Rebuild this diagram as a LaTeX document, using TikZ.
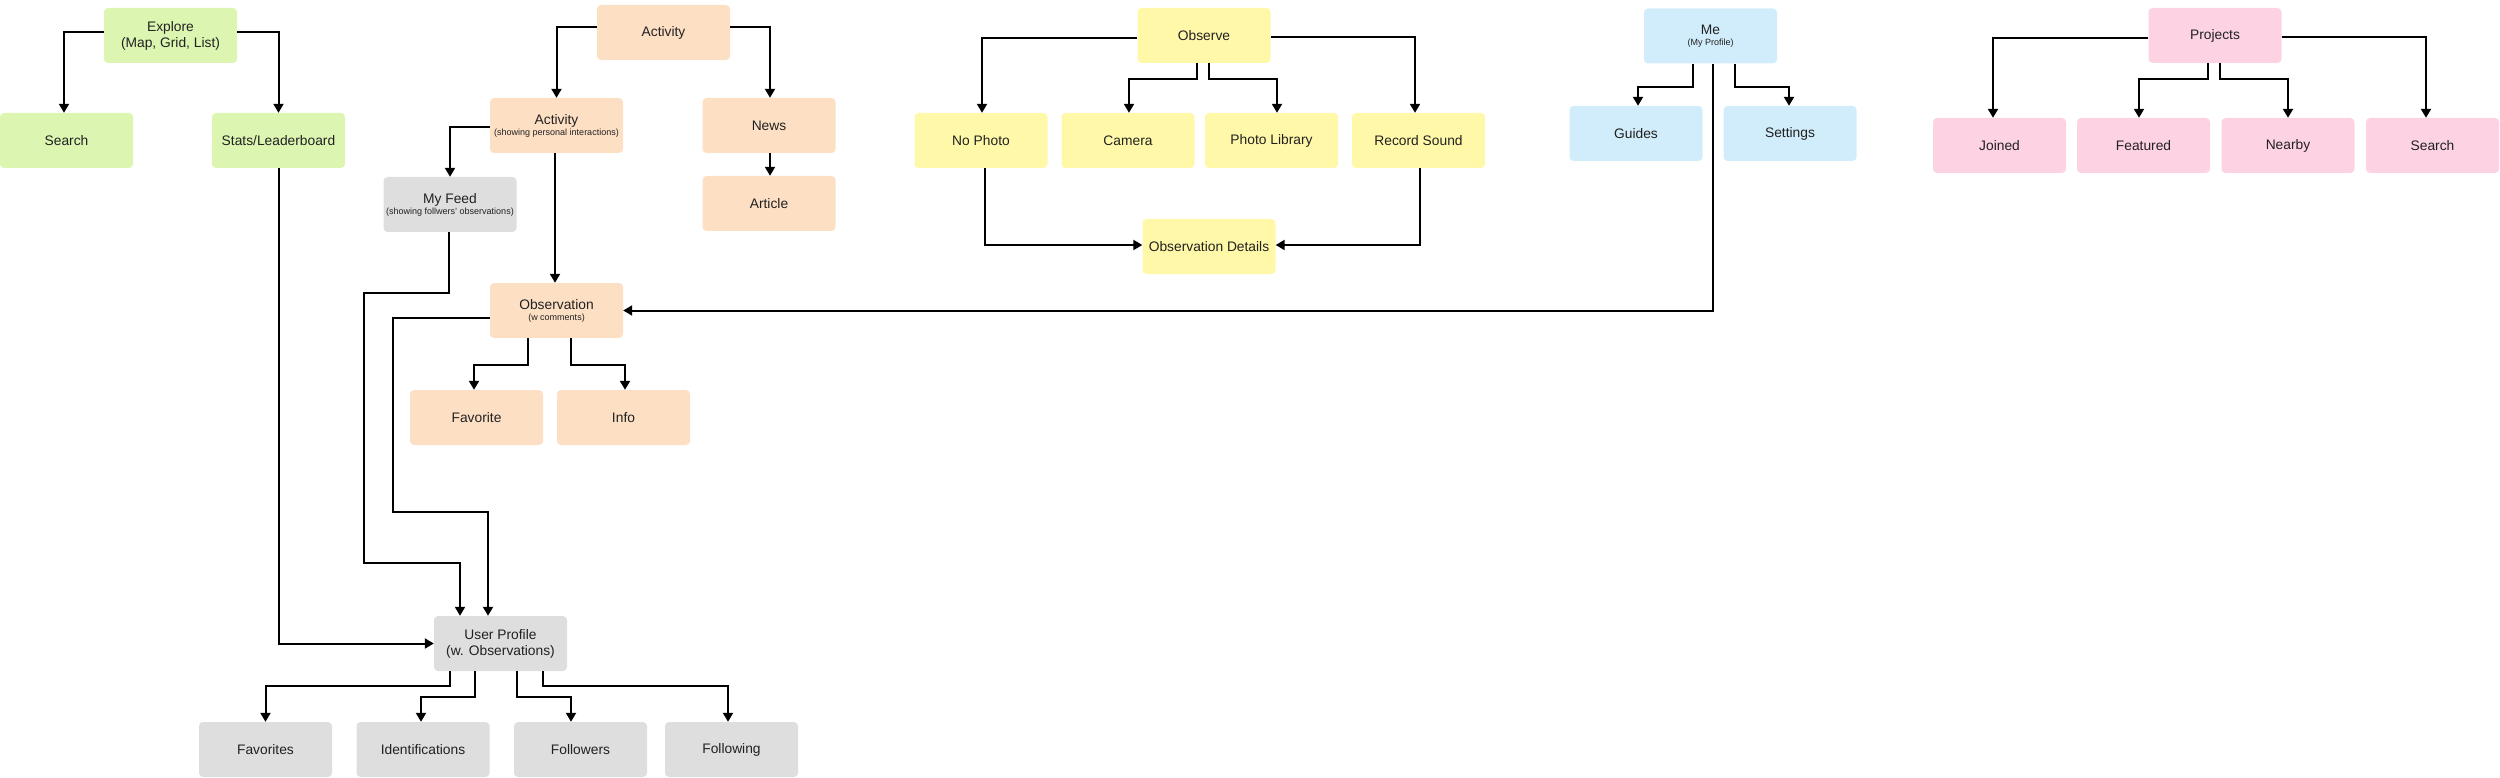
\documentclass[tikz,border=0pt]{standalone}
\usepackage{fontspec}
\setmainfont{Liberation Sans}
\usetikzlibrary{arrows.meta,calc}
\definecolor{cgreen}{RGB}{220,246,178}
\definecolor{cpeach}{RGB}{253,223,196}
\definecolor{cgray}{RGB}{222,222,222}
\definecolor{cyellow}{RGB}{255,248,168}
\definecolor{cblue}{RGB}{209,236,250}
\definecolor{cpink}{RGB}{253,210,227}
\definecolor{ctext}{RGB}{33,33,33}
\newcommand{\subt}[1]{\\[-5pt]{\fontsize{9}{10}\selectfont #1}}
\tikzset{
  box/.style={rectangle, rounded corners=4pt, minimum width=133pt, minimum height=55pt,
    inner sep=0pt, align=center, text=ctext, font=\fontsize{13.8}{16}\selectfont},
  gbox/.style={box, fill=cgreen},
  pbox/.style={box, fill=cpeach},
  grbox/.style={box, fill=cgray},
  ybox/.style={box, fill=cyellow},
  bbox/.style={box, fill=cblue},
  kbox/.style={box, fill=cpink},
  arr/.style={draw=black, line width=2pt, -{Triangle[width=10pt,length=9pt]}},
  ln/.style={draw=black, line width=2pt}
}
\begin{document}
\begin{tikzpicture}[x=1pt,y=-1pt]
\useasboundingbox (0,0) rectangle (2500,778);
% Explore group
\node[gbox] (explore) at (170.5,35.5) {Explore\\(Map, Grid, List)};
\node[gbox] (search) at (66.5,140.5) {Search};
\node[gbox] (stats) at (278.5,140.5) {Stats/Leaderboard};
% Activity group
\node[pbox] (activity) at (663.5,32.5) {Activity};
\node[pbox] (activity2) at (556.5,125.5) {Activity\subt{(showing personal interactions)}};
\node[pbox] (news) at (769,125.5) {News};
\node[pbox] (article) at (769,203.5) {Article};
\node[grbox] (myfeed) at (450,204.5) {My Feed\subt{(showing follwers' observations)}};
\node[pbox] (obs) at (556.5,310.5) {Observation\subt{(w comments)}};
\node[pbox] (favorite) at (476.5,417.5) {Favorite};
\node[pbox] (info) at (623.5,417.5) {Info};
% User profile group
\node[grbox] (profile) at (500.5,643.5) {User Profile\\(w. Observations)};
\node[grbox] (favorites) at (265.5,749.5) {Favorites};
\node[grbox] (idents) at (423,749.5) {Identifications};
\node[grbox] (followers) at (580.5,749.5) {Followers};
\node[grbox] (following) at (731.5,749.5) {Following};
% Observe group
\node[ybox] (observe) at (1204,35.5) {Observe};
\node[ybox] (nophoto) at (981,140.5) {No Photo};
\node[ybox] (camera) at (1128,140.5) {Camera};
\node[ybox] (photolib) at (1271.5,140.5) {Photo Library};
\node[ybox] (sound) at (1418.5,140.5) {Record Sound};
\node[ybox] (details) at (1209,246.5) {Observation Details};
% Me group
\node[bbox] (me) at (1710.5,36) {Me\subt{(My Profile)}};
\node[bbox] (guides) at (1636,133.5) {Guides};
\node[bbox] (settings) at (1790,133.5) {Settings};
% Projects group
\node[kbox] (projects) at (2215,35.5) {Projects};
\node[kbox] (joined) at (1999.5,145.5) {Joined};
\node[kbox] (featured) at (2143.5,145.5) {Featured};
\node[kbox] (nearby) at (2288,145.5) {Nearby};
\node[kbox] (search2) at (2432.5,145.5) {Search};

% Explore connectors
\draw[arr] ([yshift=3pt]explore.west) -| ([xshift=-2.5pt]search.north);
\draw[arr] ([yshift=3.5pt]explore.east) -| (stats.north);
\draw[arr] (stats.south) |- (profile.west);
% Activity connectors
\draw[arr] ([yshift=5.5pt]activity.west) -| (activity2.north);
\draw[arr] ([yshift=5.5pt]activity.east) -| ([xshift=1pt]news.north);
\draw[arr] ([xshift=1pt]news.south) -- ([xshift=1pt]article.north);
\draw[arr] ([yshift=-1.5pt]activity2.west) -| (myfeed.north);
\draw[arr] ([xshift=-1.5pt]activity2.south) -- ([xshift=-1.5pt]obs.north);
\draw[arr] ([xshift=-1pt]myfeed.south) -- ++(0,61) -- ++(-85,0) -- ++(0,270) -| ([xshift=-40.5pt]profile.north);
\draw[arr] ([yshift=-7.5pt]obs.west) -- ++(-97,0) -- ++(0,194) -| ([xshift=-12.5pt]profile.north);
\draw[arr] ([xshift=-28.5pt]obs.south) -- ++(0,27) -| ([xshift=-2.5pt]favorite.north);
\draw[arr] ([xshift=14.5pt]obs.south) -- ++(0,27) -| ([xshift=1.5pt]info.north);
% Profile connectors
\draw[arr] ([xshift=-50.5pt]profile.south) -- ++(0,15) -| (favorites.north);
\draw[arr] ([xshift=-25.5pt]profile.south) -- ++(0,26) -| ([xshift=-2pt]idents.north);
\draw[arr] ([xshift=16.5pt]profile.south) -- ++(0,26) -| ([xshift=-9.5pt]followers.north);
\draw[arr] ([xshift=42.5pt]profile.south) -- ++(0,15) -| ([xshift=-3.5pt]following.north);
% Observe connectors
\draw[arr] ([yshift=-2.5pt]observe.west) -| ([xshift=1pt]nophoto.north);
\draw[arr] ([yshift=-1.5pt]observe.east) -| ([xshift=-3.5pt]sound.north);
\draw[arr] ([xshift=-7pt]observe.south) -- ++(0,16) -| ([xshift=1pt]camera.north);
\draw[arr] ([xshift=5pt]observe.south) -- ++(0,16) -| ([xshift=5.5pt]photolib.north);
\draw[arr] ([xshift=4pt]nophoto.south) |- ([yshift=1.5pt]details.west);
\draw[arr] ([xshift=1.5pt]sound.south) |- ([yshift=1.5pt]details.east);
% Me connectors
\draw[arr] ([xshift=-17.5pt]me.south) -- ++(0,23) -| ([xshift=2pt]guides.north);
\draw[arr] ([xshift=24.5pt]me.south) -- ++(0,23) -| ([xshift=-1pt]settings.north);
\draw[arr] ([xshift=2.5pt]me.south) |- (obs.east);
% Projects connectors
\draw[arr] ([yshift=-2.5pt]projects.west) -| ([xshift=-6.5pt]joined.north);
\draw[arr] ([yshift=-1.5pt]projects.east) -| ([xshift=-6.5pt]search2.north);
\draw[arr] ([xshift=-7pt]projects.south) -- ++(0,16) -| ([xshift=-4.5pt]featured.north);
\draw[arr] ([xshift=5pt]projects.south) -- ++(0,16) -| (nearby.north);
\end{tikzpicture}
\end{document}
